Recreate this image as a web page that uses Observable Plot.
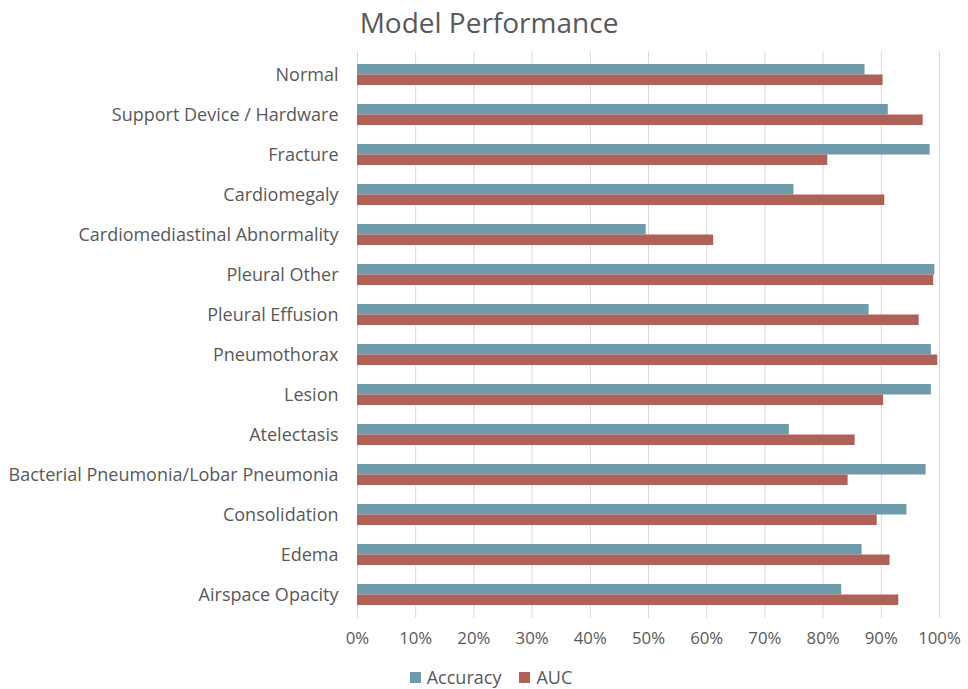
<!DOCTYPE html>
<html><head><meta charset="utf-8">
<script src="https://cdn.jsdelivr.net/npm/d3@7"></script>
<script src="https://cdn.jsdelivr.net/npm/@observablehq/plot@0.6"></script>
<style>
body{margin:0;background:#fff;font-family:"Open Sans",sans-serif;color:#595959;width:968px;}
#title{height:44px;line-height:44px;text-align:center;font-size:28px;padding-left:10px;width:958px;}
#chart svg{display:block;}
#legend{height:44px;display:flex;align-items:center;justify-content:center;padding-left:14px;font-size:18px;}
.item{display:flex;align-items:center;margin:0 9px;}
.sw{width:11px;height:11px;margin-right:6px;}
</style></head><body>
<div id="title">Model Performance</div>
<div id="chart"></div>
<div id="legend">
  <div class="item"><div class="sw" style="background:#6d9bab"></div>Accuracy</div>
  <div class="item"><div class="sw" style="background:#b06157"></div>AUC</div>
</div>
<script>
const categories = [
  "Normal",
  "Support Device / Hardware",
  "Fracture",
  "Cardiomegaly",
  "Cardiomediastinal Abnormality",
  "Pleural Other",
  "Pleural Effusion",
  "Pneumothorax",
  "Lesion",
  "Atelectasis",
  "Bacterial Pneumonia/Lobar Pneumonia",
  "Consolidation",
  "Edema",
  "Airspace Opacity"
];
const accuracy = [0.872, 0.912, 0.984, 0.750, 0.496, 0.992, 0.879, 0.986, 0.986, 0.742, 0.977, 0.944, 0.867, 0.832];
const auc      = [0.903, 0.972, 0.808, 0.906, 0.612, 0.990, 0.965, 0.997, 0.904, 0.855, 0.843, 0.893, 0.915, 0.930];
const xTicks = [0, 0.1, 0.2, 0.3, 0.4, 0.5, 0.6, 0.7, 0.8, 0.9, 1.0];
const seriesNames = ["Accuracy", "AUC"];
const seriesColors = ["#6d9bab", "#b06157"];

const accRows = categories.map((c, i) => ({category: c, value: accuracy[i]}));
const aucRows = categories.map((c, i) => ({category: c, value: auc[i]}));

const chart = Plot.plot({
  width: 968,
  height: 611,
  marginLeft: 357,
  marginRight: 29,
  marginTop: 7.3,
  marginBottom: 37.3,
  style: {fontFamily: "'Open Sans', sans-serif", fontSize: "18px", color: "#595959", background: "#fff"},
  x: {domain: [0, 1], ticks: xTicks, tickFormat: d3.format(".0%"), label: null, tickSize: 0, tickPadding: 14},
  y: {domain: categories, paddingInner: 0.477, paddingOuter: 0.3, label: null, tickSize: 0, tickPadding: 19},
  marks: [
    Plot.ruleX(xTicks, {stroke: "#d9d9d9", strokeWidth: 1}),
    Plot.barX(accRows, {x: "value", y: "category", fill: seriesColors[0], insetBottom: 10.5}),
    Plot.barX(aucRows, {x: "value", y: "category", fill: seriesColors[1], insetTop: 10.5})
  ]
});
d3.select(chart).selectAll('g[aria-label^="x-axis"]').style("font-size", "16.8px");
document.getElementById("chart").appendChild(chart);
</script>
</body></html>
